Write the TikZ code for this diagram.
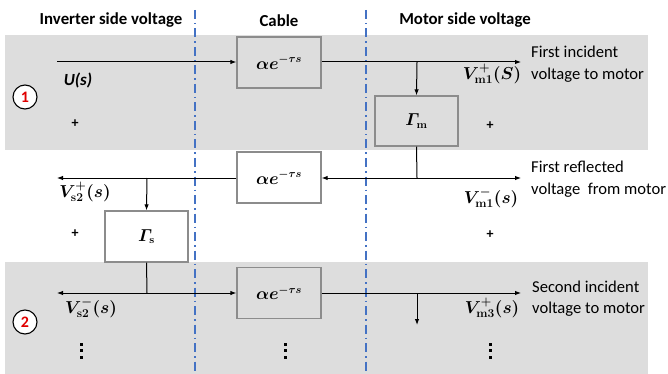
\documentclass[tikz,border=0pt]{standalone}
\usepackage{amsmath}
\usepackage[no-math]{fontspec}
\usepackage{bm}
\setmainfont{Carlito}
\usetikzlibrary{arrows.meta}
\definecolor{bandgray}{HTML}{DDDDDD}
\definecolor{boxedge}{HTML}{8C8C8C}
\definecolor{sepblue}{HTML}{4472C4}
\definecolor{numred}{HTML}{E00000}
\tikzset{
  band/.style={fill=bandgray, draw=none},
  sep/.style={sepblue, line width=2pt, dash pattern=on 9pt off 4pt on 1.5pt off 4pt},
  blk/.style={draw=boxedge, line width=1.3pt, minimum width=84pt, minimum height=51pt, inner sep=0pt, font=\fontsize{16}{18}\selectfont},
  flow/.style={line width=1pt, -{Latex[length=6pt,width=4.5pt]}},
  wire/.style={line width=1pt},
  hdr/.style={font=\bfseries\fontsize{16.8}{18}\selectfont},
  lbl/.style={font=\fontsize{16.5}{18}\selectfont},
  desc/.style={font=\fontsize{16.6}{18}\selectfont, anchor=west, inner sep=0pt},
  num/.style={circle, draw=black, line width=1.1pt, fill=white, minimum size=24pt, inner sep=0pt, text=numred, font=\bfseries\fontsize{16}{18}\selectfont},
  plus/.style={font=\bfseries\fontsize{14}{16}\selectfont},
  dot/.style={fill=black, minimum size=3pt, inner sep=0pt, rectangle}
}
\begin{document}
\begin{tikzpicture}[x=1pt,y=-1pt]
\useasboundingbox (0,0) rectangle (668,374);
% bands
\fill[band] (5,35) rectangle (648,150);
\fill[band] (5,262) rectangle (648,374);
% separators
\draw[sep] (195,10) -- (195,374);
\draw[sep] (366,10) -- (366,374);
% headers
\node[hdr] (h1) at (111,20) {Inverter side voltage};
\node[hdr] (h2) at (279,21) {Cable};
\node[hdr] (h3) at (465,20) {Motor side voltage};
% blocks
\node[blk, fill=bandgray] (c1) at (279,62.5) {$\bm{\alpha e^{-\tau s}}$};
\node[blk, fill=white] (c2) at (279,177.5) {$\bm{\alpha e^{-\tau s}}$};
\node[blk, fill=bandgray] (c3) at (279,293) {$\bm{\alpha e^{-\tau s}}$};
\node[blk, fill=bandgray, minimum width=83pt, minimum height=50pt] (gm) at (416.5,121) {$\bm{\varGamma}_{\mathbf{m}}$};
\node[blk, fill=white, minimum width=83pt, minimum height=51pt] (gs) at (146.5,236.5) {$\bm{\varGamma}_{\mathbf{s}}$};
% coordinates
\coordinate (uin) at (57,62);
\coordinate (o1) at (521,62);
\coordinate (b1) at (417,62);
\coordinate (j2) at (417,178);
\coordinate (o2) at (521,178);
\coordinate (l2) at (57,178);
\coordinate (b2) at (147,178);
\coordinate (j3) at (147,293);
\coordinate (l3) at (57,293);
\coordinate (o3) at (521,293);
\coordinate (b3) at (417,293);
\coordinate (d3) at (417,325);
% row 1
\draw[flow] (uin) -- (c1.west |- uin);
\draw[flow] (c1.east |- o1) -- (o1);
\draw[flow] (b1) -- (gm.north);
% row 2
\draw[wire] (gm.south) -- (j2);
\draw[flow] (j2) -- (c2.east |- j2);
\draw[flow] (j2) -- (o2);
\draw[flow] (c2.west |- l2) -- (l2);
\draw[flow] (b2) -- (gs.north);
% row 3
\draw[wire] (gs.south) -- (j3);
\draw[flow] (j3) -- (l3);
\draw[flow] (j3) -- (c3.west |- j3);
\draw[flow] (c3.east |- o3) -- (o3);
\draw[flow] (b3) -- (d3);
% labels
\node[lbl, font=\bfseries\itshape\fontsize{17}{18}\selectfont] (us) at (78,80) {U(s)};
\node[num] (n1) at (25,97) {1};
\node[plus] (p1) at (75,124) {+};
\node[plus] (p2) at (490,126) {+};
\node[lbl] (vm1p) at (492,74) {$\bm{V^{+}_{\mathbf{m1}}(S)}$};
\node[desc] (t1a) at (531,52) {First incident};
\node[desc] (t1b) at (531,75) {voltage to motor};
\node[lbl] (vs2p) at (85,192) {$\bm{V^{+}_{\mathbf{s2}}(s)}$};
\node[plus] (p3) at (75,234) {+};
\node[lbl] (vm1m) at (491,198) {$\bm{V^{-}_{\mathbf{m1}}(s)}$};
\node[desc] (t2a) at (531,167) {First reflected};
\node[desc] (t2b) at (531,190) {voltage~~from motor};
\node[plus] (p4) at (490,235) {+};
\node[lbl] (vs2m) at (91,308) {$\bm{V^{-}_{\mathbf{s2}}(s)}$};
\node[num] (n2) at (25,322) {2};
\node[lbl] (vm3p) at (492,308) {$\bm{V^{+}_{\mathbf{m3}}(s)}$};
\node[desc] (t3a) at (532,287) {Second incident};
\node[desc] (t3b) at (532,309) {voltage to motor};
% vertical ellipses
\foreach \x/\n in {81/a,285/b,490/c}{
  \node[dot] (\n1) at (\x,344) {};
  \node[dot] (\n2) at (\x,350.5) {};
  \node[dot] (\n3) at (\x,357) {};
}
\end{tikzpicture}
\end{document}
